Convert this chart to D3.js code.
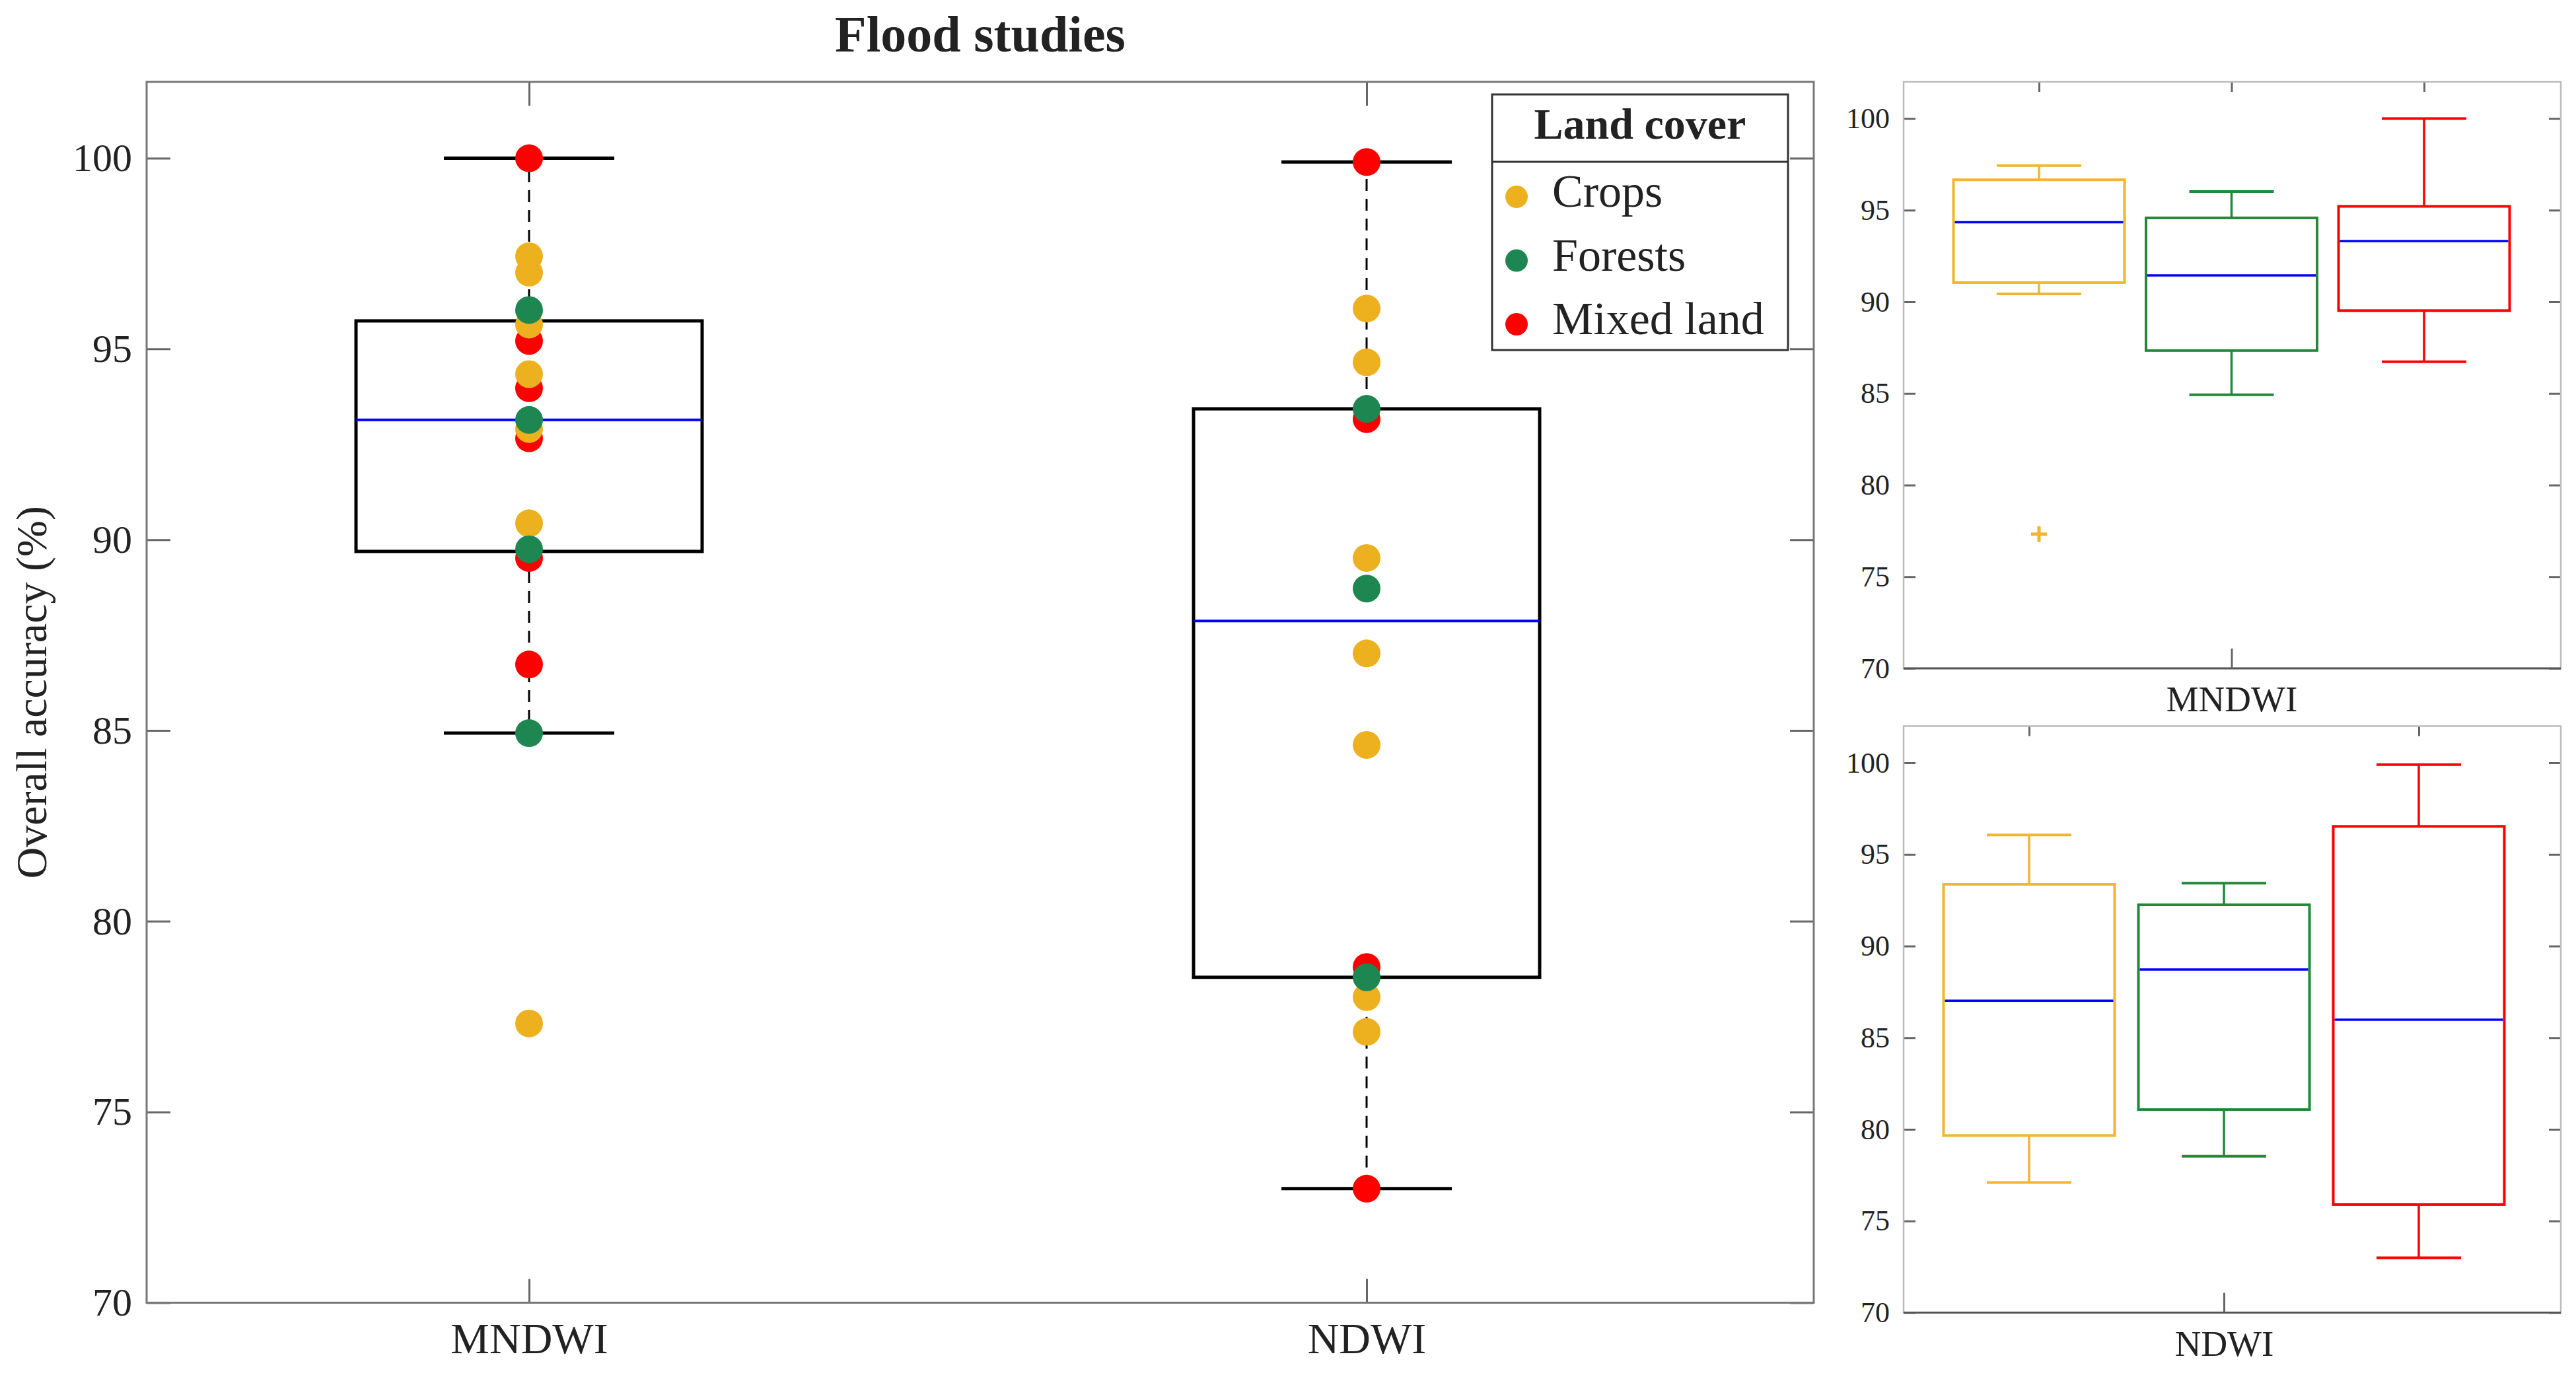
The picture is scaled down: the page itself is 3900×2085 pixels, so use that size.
<!DOCTYPE html>
<html>
<head>
<meta charset="utf-8">
<script src="https://cdn.jsdelivr.net/npm/d3@7"></script>
<style>
body { margin: 0; background: #fff; }
text { font-family: "Liberation Serif", "DejaVu Serif", serif; fill: #222; }
</style>
</head>
<body>
<div id="chart"></div>
<script>
var indices = ["MNDWI", "NDWI"]
var covers = ["Crops", "Forests", "Mixed land"]
var yTicks = [70, 75, 80, 85, 90, 95, 100]

// overall accuracy (%) per index and land cover
var mndwiCrops = [97.43, 97.0, 95.64, 94.34, 92.9, 90.43, 77.32]
var mndwiForests = [96.02, 93.14, 89.75, 84.93]
var mndwiMixed = [100, 95.21, 93.97, 92.66, 89.52, 86.73]
var ndwiCrops = [96.06, 94.65, 89.52, 87.02, 84.62, 78.01, 77.1]
var ndwiForests = [93.43, 88.72, 78.53]
var ndwiMixed = [99.9, 93.16, 78.8, 72.99]

var groups = [
  [mndwiCrops, mndwiForests, mndwiMixed],
  [ndwiCrops, ndwiForests, ndwiMixed]
]

//colors
var dotColors = ["#edb120", "#1e8650", "#ff0000"]
var boxColors = ["#f2b530", "#22883a", "#ff0000"]
var medianColor = "#0000ff"
var frameColor = "#777"
var font = "'Liberation Serif', 'DejaVu Serif', serif"

//matlab style percentile
function pct(sorted, p) {
  var n = sorted.length
  var pos = n * p + 0.5
  if (pos <= 1) return sorted[0]
  if (pos >= n) return sorted[n - 1]
  var i = Math.floor(pos)
  return sorted[i - 1] + (pos - i) * (sorted[i] - sorted[i - 1])
}

function boxStats(values) {
  var s = values.slice().sort(d3.ascending)
  var q1 = pct(s, 0.25), med = pct(s, 0.5), q3 = pct(s, 0.75)
  var iqr = q3 - q1
  var lo = q1 - 1.5 * iqr, hi = q3 + 1.5 * iqr
  var inside = s.filter(function (v) { return v >= lo && v <= hi })
  return {
    q1: q1, med: med, q3: q3,
    wLo: d3.min(inside), wHi: d3.max(inside),
    out: s.filter(function (v) { return v < lo || v > hi })
  }
}

var width = 3900
var height = 2085

var svg = d3.select("#chart")
  .append("svg")
  .attr("width", width)
  .attr("height", height)
  .style("background", "#fff")

function styleAxis(g, size) {
  g.select(".domain").remove()
  g.selectAll(".tick line").attr("stroke", "#666").attr("stroke-width", 3)
  g.selectAll("text")
    .attr("font-family", font)
    .attr("font-size", size)
    .attr("fill", "#222")
}

// ---------- main plot ----------
var plotLeft = 222, plotRight = 2746, plotTop = 124, plotBottom = 1972.5

var x = d3.scaleLinear().domain([1, 2]).range([801, 2069])
var y = d3.scaleLinear().domain([70, 102]).range([plotBottom, plotTop])

svg.append("text")
  .attr("x", 1484)
  .attr("y", 78)
  .attr("text-anchor", "middle")
  .attr("font-size", 78)
  .attr("font-weight", "bold")
  .attr("fill", "#000")
  .text("Flood studies")

svg.append("text")
  .attr("transform", "translate(70," + (plotTop + plotBottom) / 2 + ") rotate(-90)")
  .attr("text-anchor", "middle")
  .attr("font-size", 66)
  .text("Overall accuracy (%)")

svg.append("g")
  .attr("transform", "translate(" + plotLeft + ",0)")
  .call(d3.axisLeft(y).tickValues(yTicks).tickSize(-36).tickPadding(22))
  .call(styleAxis, 60)

svg.append("g")
  .attr("transform", "translate(" + plotRight + ",0)")
  .call(d3.axisRight(y).tickValues(yTicks).tickSize(-36).tickFormat(""))
  .call(styleAxis, 60)

svg.append("g")
  .attr("transform", "translate(0," + plotTop + ")")
  .call(d3.axisTop(x).tickValues([1, 2]).tickSize(-36).tickFormat(""))
  .call(styleAxis, 60)

svg.append("g")
  .attr("transform", "translate(0," + plotBottom + ")")
  .call(d3.axisBottom(x).tickValues([1, 2]).tickSize(-36).tickPadding(30)
    .tickFormat(function (d) { return indices[d - 1] }))
  .call(styleAxis, 66)

svg.append("rect")
  .attr("x", plotLeft).attr("y", plotTop)
  .attr("width", plotRight - plotLeft).attr("height", plotBottom - plotTop)
  .attr("fill", "none")
  .attr("stroke", frameColor)
  .attr("stroke-width", 3)

var boxHalf = 262, capHalf = 129

groups.forEach(function (g, gi) {
  var all = [].concat(g[0], g[1], g[2])
  var st = boxStats(all)
  var cx = x(gi + 1)
  var main = svg.append("g")

  main.append("line")
    .attr("x1", cx).attr("x2", cx)
    .attr("y1", y(st.q3)).attr("y2", y(st.wHi))
    .attr("stroke", "#000").attr("stroke-width", 3).attr("stroke-dasharray", "18,12")
  main.append("line")
    .attr("x1", cx).attr("x2", cx)
    .attr("y1", y(st.q1)).attr("y2", y(st.wLo))
    .attr("stroke", "#000").attr("stroke-width", 3).attr("stroke-dasharray", "18,12")

  main.selectAll(".cap")
    .data([st.wLo, st.wHi])
    .enter()
    .append("line")
    .attr("x1", cx - capHalf).attr("x2", cx + capHalf)
    .attr("y1", function (d) { return y(d) }).attr("y2", function (d) { return y(d) })
    .attr("stroke", "#000").attr("stroke-width", 5)

  main.append("rect")
    .attr("x", cx - boxHalf).attr("width", boxHalf * 2)
    .attr("y", y(st.q3)).attr("height", y(st.q1) - y(st.q3))
    .attr("fill", "none").attr("stroke", "#000").attr("stroke-width", 5)

  main.append("line")
    .attr("x1", cx - boxHalf).attr("x2", cx + boxHalf)
    .attr("y1", y(st.med)).attr("y2", y(st.med))
    .attr("stroke", medianColor).attr("stroke-width", 4)

  //red first, then crops, then forests on top
  ;[2, 0, 1].forEach(function (ci) {
    main.selectAll(".dot" + ci)
      .data(g[ci])
      .enter()
      .append("circle")
      .attr("cx", cx)
      .attr("cy", function (d) { return y(d) })
      .attr("r", 21)
      .attr("fill", dotColors[ci])
  })
})

// legend
var legend = svg.append("g")
legend.append("rect")
  .attr("x", 2259).attr("y", 143)
  .attr("width", 448).attr("height", 387)
  .attr("fill", "#fff").attr("stroke", "#333").attr("stroke-width", 3)
legend.append("line")
  .attr("x1", 2259).attr("x2", 2707)
  .attr("y1", 245).attr("y2", 245)
  .attr("stroke", "#333").attr("stroke-width", 3)
legend.append("text")
  .attr("x", 2483).attr("y", 210)
  .attr("text-anchor", "middle")
  .attr("font-size", 66).attr("font-weight", "bold")
  .attr("fill", "#000")
  .text("Land cover")

var item = legend.selectAll(".item")
  .data(covers)
  .enter()
  .append("g")
  .attr("transform", function (d, i) { return "translate(0," + (298 + i * 96.5) + ")" })
item.append("circle")
  .attr("cx", 2296).attr("r", 17)
  .attr("fill", function (d, i) { return dotColors[i] })
item.append("text")
  .attr("x", 2350).attr("y", 15)
  .attr("font-size", 70)
  .attr("fill", "#000")
  .text(function (d) { return d })

// ---------- insets ----------
function drawInset(gi, top0, xRange, topTicks) {
  var l = 2882, r = 3877, t = top0, b = top0 + 888
  var ix = d3.scaleLinear().domain([0, 2]).range(xRange)
  var iy = d3.scaleLinear().domain([70, 102]).range([b, t])
  var g = svg.append("g")

  g.append("g")
    .attr("transform", "translate(" + l + ",0)")
    .call(d3.axisLeft(iy).tickValues(yTicks).tickSize(-18).tickPadding(21))
    .call(styleAxis, 44)
  g.append("g")
    .attr("transform", "translate(" + r + ",0)")
    .call(d3.axisRight(iy).tickValues(yTicks).tickSize(-18).tickFormat(""))
    .call(styleAxis, 44)
  g.append("g")
    .attr("transform", "translate(0," + t + ")")
    .call(d3.axisTop(ix).tickValues(topTicks).tickSize(-15).tickFormat(""))
    .call(styleAxis, 44)
  g.append("g")
    .attr("transform", "translate(0," + b + ")")
    .call(d3.axisBottom(ix).tickValues([1]).tickSize(-30).tickPadding(26)
      .tickFormat(function () { return indices[gi] }))
    .call(styleAxis, 55)

  g.append("rect")
    .attr("x", l).attr("y", t)
    .attr("width", r - l).attr("height", b - t)
    .attr("fill", "none").attr("stroke", "#bbb").attr("stroke-width", 2.5)
  g.append("line")
    .attr("x1", l).attr("x2", r).attr("y1", b).attr("y2", b)
    .attr("stroke", "#555").attr("stroke-width", 3)

  groups[gi].forEach(function (vals, ci) {
    var st = boxStats(vals)
    var cx = ix(ci)
    var col = boxColors[ci]
    var half = 129.5, cap = 64

    g.append("line")
      .attr("x1", cx).attr("x2", cx).attr("y1", iy(st.q3)).attr("y2", iy(st.wHi))
      .attr("stroke", col).attr("stroke-width", 3.5)
    g.append("line")
      .attr("x1", cx).attr("x2", cx).attr("y1", iy(st.q1)).attr("y2", iy(st.wLo))
      .attr("stroke", col).attr("stroke-width", 3.5)
    g.selectAll(".cap" + ci)
      .data([st.wLo, st.wHi])
      .enter()
      .append("line")
      .attr("x1", cx - cap).attr("x2", cx + cap)
      .attr("y1", function (d) { return iy(d) }).attr("y2", function (d) { return iy(d) })
      .attr("stroke", col).attr("stroke-width", 4)
    g.append("rect")
      .attr("x", cx - half).attr("width", half * 2)
      .attr("y", iy(st.q3)).attr("height", iy(st.q1) - iy(st.q3))
      .attr("fill", "none").attr("stroke", col).attr("stroke-width", 4)
    g.append("line")
      .attr("x1", cx - half + 2).attr("x2", cx + half - 2)
      .attr("y1", iy(st.med)).attr("y2", iy(st.med))
      .attr("stroke", medianColor).attr("stroke-width", 3.5)

    g.selectAll(".out" + ci)
      .data(st.out)
      .enter()
      .append("path")
      .attr("d", function (d) {
        var py = iy(d)
        return "M" + (cx - 12) + "," + py + "H" + (cx + 12) + "M" + cx + "," + (py - 12) + "V" + (py + 12)
      })
      .attr("stroke", col).attr("stroke-width", 5)
  })
}

drawInset(0, 124, [3087, 3670], [0, 1, 2])
drawInset(1, 1099.5, [3072, 3662], [0, 2])
</script>
</body>
</html>
